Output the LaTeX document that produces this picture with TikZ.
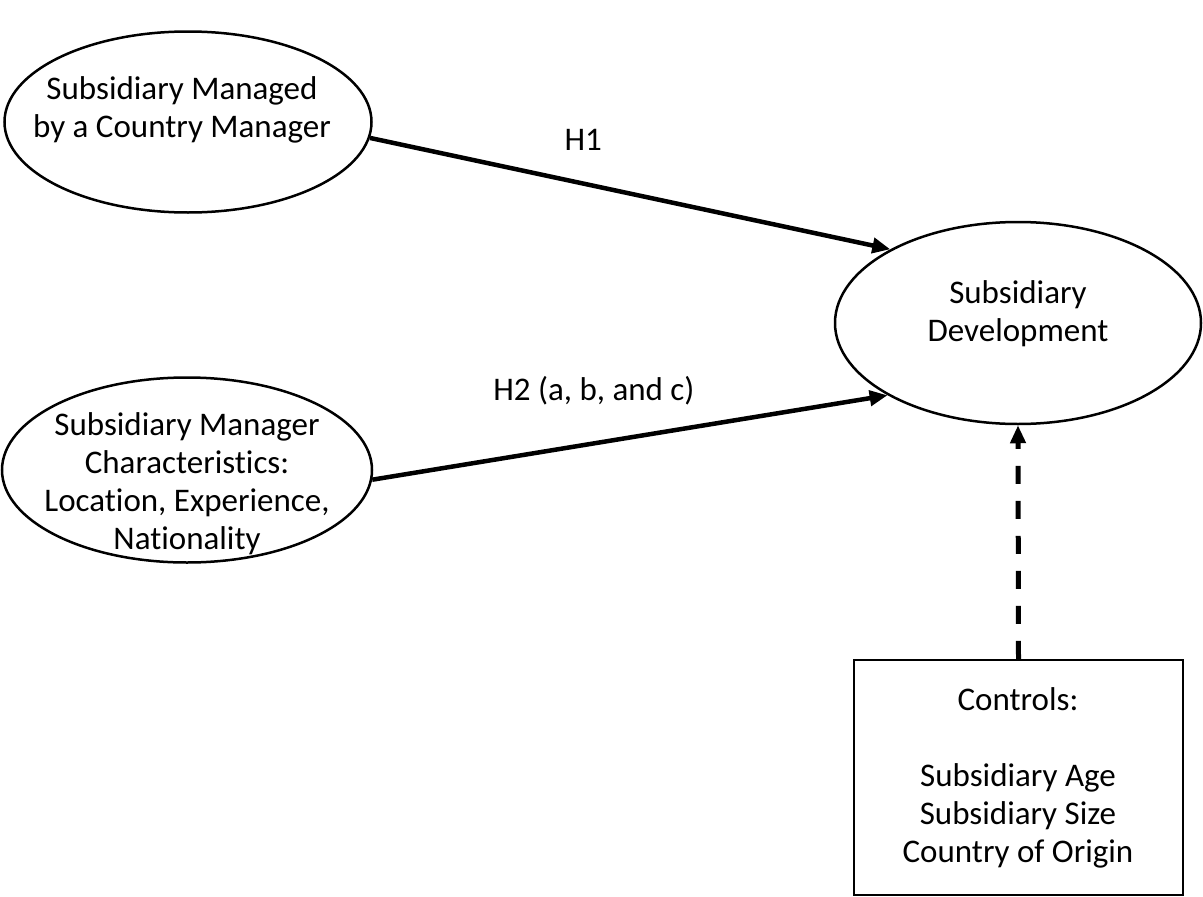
\documentclass[tikz,border=0pt]{standalone}
\usepackage{fontspec}
\setmainfont[Ligatures=NoCommon]{Carlito}
\usetikzlibrary{arrows.meta,shapes.geometric}
\begin{document}
\begin{tikzpicture}[x=1pt,y=-1pt,
  oval/.style={ellipse,draw,line width=2.5pt,inner sep=0pt,minimum width=#1},
  txt/.style={align=center,font=\fontsize{33}{38}\selectfont,inner sep=0pt},
  arr/.style={line width=4.5pt,-{Triangle[length=18pt,width=15pt]}},
  ]
\useasboundingbox (0,0) rectangle (1203,897);
\node[oval=367pt,minimum height=181pt] (e1) at (188,122) {};
\node[oval=370pt,minimum height=185pt] (e2) at (187,470) {};
\node[oval=366pt,minimum height=202pt] (e3) at (1018,323) {};
\node[draw,line width=2.5pt,minimum width=329pt,minimum height=235pt,inner sep=0pt] (ctrl) at (1018.5,777.5) {};
\node[txt] (t1) at (182,110) {Subsidiary Managed\\by a Country Manager};
\node[txt] (t2) at (187,484) {Subsidiary Manager\\Characteristics:\\Location, Experience,\\Nationality};
\node[txt] (t3) at (1018,314) {Subsidiary\\Development};
\node[txt] (t4) at (1018,778) {Controls:\\ \\Subsidiary Age\\Subsidiary Size\\Country of Origin};
\draw[arr] (e1.-5.6) -- (e3.150) node[pos=0.41,above=31pt,txt] (h1) {H1};
\draw[arr] (e2.-3) -- (e3.209) node[pos=0.43,above=36pt,txt] (h2) {H2 (a, b, and c)};
\draw[arr,line width=5pt,dash pattern=on 18pt off 17pt] (ctrl.north) -- (e3.south);
\end{tikzpicture}
\end{document}
